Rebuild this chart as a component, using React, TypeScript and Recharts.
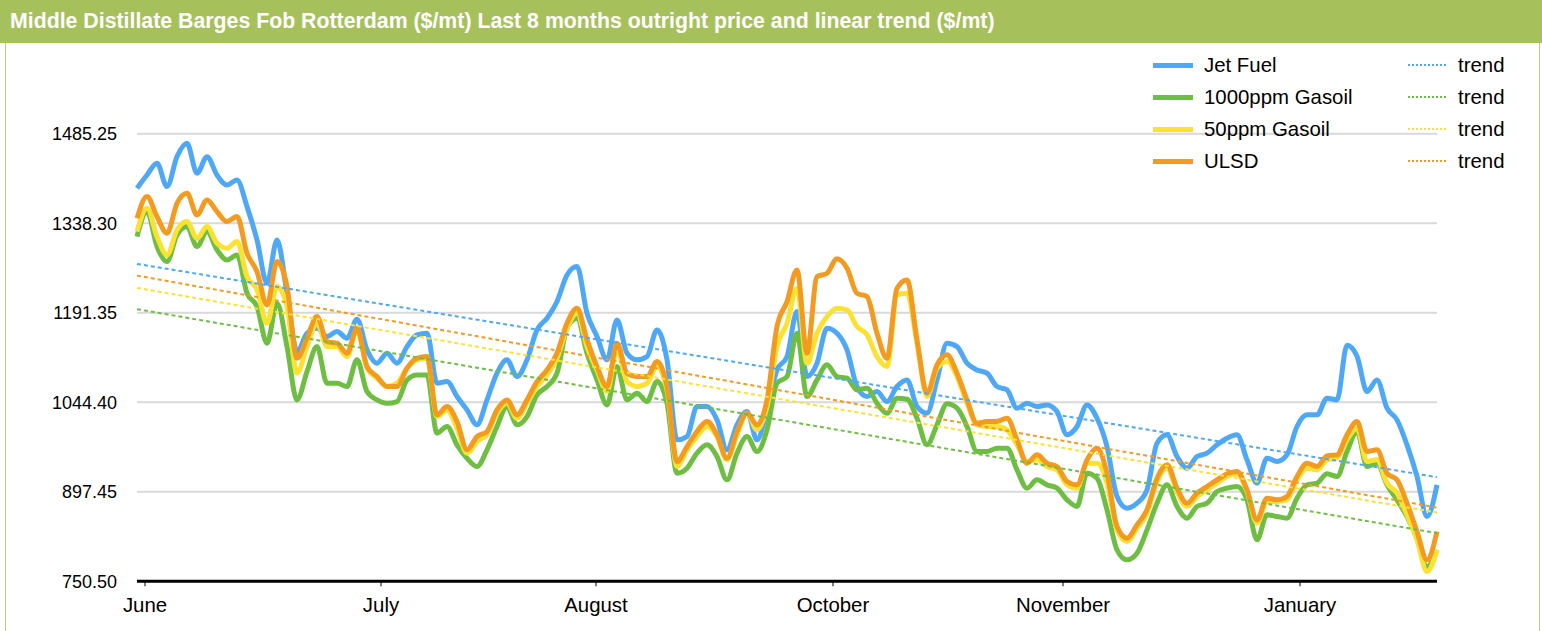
import React from "react";
import { LineChart, Line, XAxis, YAxis, CartesianGrid, Legend } from "recharts";

const FONT = "'Liberation Sans', Arial, sans-serif";

// daily prices ($/mt), June -> end of January
const jetFuel = [
  1395.7, 1417.5, 1436.7, 1398.4, 1447.6, 1469.5, 1420.3, 1447.6, 1417.5, 1401.1,
  1409.3, 1365.6, 1310.9, 1239.8, 1310.9, 1223.4, 1127.6, 1157.7, 1165.9, 1152.2,
  1160.5, 1149.5, 1180.7, 1130.4, 1108.5, 1124.9, 1108.5, 1135.8, 1155.0, 1157.7,
  1075.7, 1078.4, 1053.8, 1031.9, 1007.3, 1048.3, 1092.1, 1114.0, 1086.6, 1114.0,
  1163.2, 1182.3, 1209.7, 1253.4, 1267.1, 1190.5, 1152.2, 1114.0, 1179.6, 1124.9,
  1114.0, 1119.4, 1163.2, 1114.0, 982.7, 988.1, 1037.4, 1037.4, 1015.5, 966.3,
  1007.3, 1029.2, 982.7, 1031.9, 1097.5, 1119.4, 1193.3, 1086.6, 1108.5, 1165.9,
  1157.7, 1130.4, 1070.2, 1053.8, 1062.0, 1045.6, 1070.2, 1081.1, 1037.4, 1026.4,
  1081.1, 1141.3, 1135.8, 1108.5, 1097.5, 1092.1, 1070.2, 1064.7, 1034.6, 1042.8,
  1037.4, 1040.1, 1029.2, 990.9, 1004.6, 1040.1, 1018.2, 971.7, 889.7, 870.5,
  878.7, 900.6, 977.2, 990.9, 955.3, 936.2, 955.3, 960.8, 974.5, 985.4,
  990.9, 949.9, 911.6, 952.6, 947.1, 958.1, 1004.6, 1023.7, 1023.7, 1051.1,
  1048.3, 1138.0, 1120.0, 1062.0, 1081.1, 1034.6, 1015.5, 974.5, 922.5, 856.9,
  908.8,
];

const gasoil1000 = [
  1316.3, 1357.4, 1299.9, 1275.3, 1319.1, 1332.8, 1299.9, 1324.6, 1294.5, 1278.1,
  1286.3, 1223.4, 1201.5, 1141.3, 1206.9, 1135.8, 1048.3, 1094.8, 1135.8, 1075.7,
  1075.7, 1070.2, 1114.0, 1062.0, 1048.3, 1042.8, 1045.6, 1081.1, 1089.3, 1089.3,
  993.6, 1004.6, 974.5, 952.6, 938.9, 966.3, 1004.6, 1037.4, 1007.3, 1021.0,
  1056.5, 1070.2, 1092.1, 1165.9, 1182.3, 1124.9, 1081.1, 1040.1, 1103.0, 1048.3,
  1059.3, 1045.6, 1078.4, 1042.8, 928.0, 936.2, 960.8, 974.5, 955.3, 917.0,
  960.8, 988.1, 963.5, 999.1, 1075.7, 1086.6, 1157.7, 1053.8, 1081.1, 1105.8,
  1086.6, 1083.9, 1064.7, 1067.5, 1042.8, 1026.4, 1051.1, 1049.4, 1018.2, 974.5,
  1007.3, 1041.8, 1034.6, 1004.6, 963.5, 963.5, 969.0, 969.0, 933.4, 903.4,
  917.0, 908.8, 903.4, 884.2, 873.3, 928.0, 919.8, 867.8, 802.2, 785.8,
  796.7, 835.0, 878.7, 908.8, 873.3, 854.1, 873.3, 878.7, 897.9, 903.4,
  906.1, 884.2, 818.6, 859.6, 856.9, 854.1, 887.0, 908.8, 911.6, 926.9,
  922.5, 963.5, 996.4, 938.9, 944.4, 908.8, 884.2, 856.9, 821.3, 774.8,
  802.2,
];

const gasoil50 = [
  1324.6, 1362.8, 1316.3, 1286.3, 1327.3, 1341.0, 1313.6, 1332.8, 1305.4, 1297.2,
  1308.1, 1250.7, 1228.8, 1174.1, 1234.3, 1201.5, 1092.1, 1135.8, 1174.1, 1135.8,
  1135.8, 1119.4, 1163.2, 1100.3, 1083.9, 1070.2, 1075.7, 1100.3, 1114.0, 1116.7,
  1021.0, 1031.9, 1001.8, 960.8, 979.9, 990.9, 1026.4, 1042.8, 1018.2, 1042.8,
  1070.2, 1089.3, 1116.7, 1165.9, 1190.5, 1135.8, 1097.5, 1062.0, 1130.4, 1078.4,
  1070.2, 1075.7, 1103.0, 1064.7, 938.9, 966.3, 988.1, 1004.6, 988.1, 949.9,
  990.9, 1026.4, 999.1, 1037.4, 1135.8, 1174.1, 1231.6, 1108.5, 1157.7, 1185.1,
  1198.7, 1196.0, 1168.7, 1155.0, 1119.4, 1103.0, 1220.6, 1223.4, 1141.3, 1053.8,
  1100.3, 1111.2, 1086.6, 1042.8, 1007.3, 1004.6, 1004.6, 999.1, 974.5, 947.1,
  949.9, 938.9, 933.4, 908.8, 903.4, 944.4, 944.4, 911.6, 835.0, 815.8,
  837.7, 862.3, 914.3, 936.2, 897.9, 873.3, 889.7, 900.6, 911.6, 922.5,
  926.9, 897.9, 845.9, 881.5, 881.5, 884.2, 917.0, 936.2, 933.4, 949.9,
  952.6, 982.7, 1001.8, 947.1, 949.9, 911.6, 895.2, 859.6, 818.6, 766.6,
  802.2,
];

const ulsd = [
  1346.4, 1382.0, 1349.2, 1321.8, 1371.0, 1387.5, 1351.9, 1376.5, 1357.4, 1341.0,
  1349.2, 1289.0, 1258.9, 1204.2, 1275.3, 1234.3, 1116.7, 1149.5, 1185.1, 1144.0,
  1141.3, 1124.9, 1165.9, 1103.0, 1086.6, 1070.2, 1070.2, 1100.3, 1116.7, 1119.4,
  1023.7, 1037.4, 1012.8, 966.3, 988.1, 996.4, 1031.9, 1048.3, 1023.7, 1048.3,
  1078.4, 1097.5, 1124.9, 1174.1, 1198.7, 1146.8, 1103.0, 1070.2, 1141.3, 1092.1,
  1086.6, 1086.6, 1111.2, 1070.2, 947.1, 971.7, 996.4, 1012.8, 990.9, 952.6,
  996.4, 1026.4, 1007.3, 1048.3, 1168.7, 1209.7, 1261.6, 1124.9, 1250.7, 1256.2,
  1280.0, 1264.4, 1223.4, 1217.9, 1157.7, 1116.7, 1231.6, 1245.2, 1146.8, 1059.3,
  1105.8, 1122.2, 1092.1, 1048.3, 1010.0, 1012.8, 1012.8, 1018.2, 982.7, 944.4,
  958.1, 944.4, 938.9, 914.3, 908.8, 949.9, 969.0, 928.0, 840.5, 821.3,
  843.2, 867.8, 919.8, 941.7, 903.4, 878.7, 895.2, 906.1, 917.0, 926.9,
  930.7, 900.6, 851.4, 887.0, 884.2, 889.7, 922.5, 944.4, 938.9, 956.4,
  958.1, 990.9, 1012.8, 963.5, 966.3, 928.0, 917.0, 878.7, 832.3, 785.8,
  832.3,
];

// linear trend: value at first and last day
const jetTrend = [1271.5, 921.5];
const gasoil1000Trend = [1197.2, 829.6];
const gasoil50Trend = [1232.1, 863.4];
const ulsdTrend = [1252.3, 871.6];

// month labels sit at these day positions
const monthTicks = [0.8, 24.4, 45.9, 69.6, 92.6, 116.3];
const monthLabels = ["June", "July", "August", "October", "November", "January"];
const yTicks = [750.5, 897.45, 1044.4, 1191.35, 1338.3, 1485.25];

const series = [
  { key: "jet", name: "Jet Fuel", color: "#4fa8f6", values: jetFuel, trend: jetTrend },
  { key: "g1000", name: "1000ppm Gasoil", color: "#6fbe44", values: gasoil1000, trend: gasoil1000Trend },
  { key: "g50", name: "50ppm Gasoil", color: "#fbe232", values: gasoil50, trend: gasoil50Trend },
  { key: "ulsd", name: "ULSD", color: "#f29b20", values: ulsd, trend: ulsdTrend },
];

const last = jetFuel.length - 1;
const data = jetFuel.map((_, i) => {
  const row: Record<string, number | null> = { i };
  series.forEach((s) => {
    row[s.key] = s.values[i];
    row[s.key + "Trend"] = i === 0 ? s.trend[0] : i === last ? s.trend[1] : null;
  });
  return row;
});

const renderLegend = () => (
  <div style={{ position: "relative", width: 390, height: 128, fontFamily: FONT, fontSize: 20.4, color: "#000" }}>
    {series.map((s, k) => (
      <React.Fragment key={s.key}>
        <div style={{ position: "absolute", left: 13, top: k * 32 + 14, width: 40, height: 5, background: s.color }} />
        <div style={{ position: "absolute", left: 64, top: k * 32, lineHeight: "32px", whiteSpace: "nowrap" }}>{s.name}</div>
        <div style={{ position: "absolute", left: 268, top: k * 32 + 15, width: 38, borderTop: `2px dotted ${s.color}` }} />
        <div style={{ position: "absolute", left: 318, top: k * 32, lineHeight: "32px" }}>trend</div>
      </React.Fragment>
    ))}
  </div>
);

export default function App() {
  return (
    <div style={{ position: "absolute", left: 0, top: 0, width: 1542, height: 631, background: "#fff", overflow: "hidden" }}>
      <LineChart
        width={1542}
        height={631}
        data={data}
        margin={{ top: 133.7, right: 105, bottom: 9.7, left: 17 }}
      >
        <CartesianGrid vertical={false} stroke="#d9d9d9" strokeWidth={2} />
        <XAxis
          dataKey="i"
          type="number"
          domain={[0, last]}
          ticks={monthTicks}
          interval={0}
          tickFormatter={(v) => monthLabels[monthTicks.indexOf(v)]}
          axisLine={{ stroke: "#000", strokeWidth: 3 }}
          tickLine={{ stroke: "#000" }}
          tickSize={5}
          tickMargin={11}
          height={40}
          tick={{ fill: "#000", fontSize: 20.4, fontFamily: FONT }}
        />
        <YAxis
          domain={[750.5, 1485.25]}
          ticks={yTicks}
          interval={0}
          tickFormatter={(v) => v.toFixed(2)}
          axisLine={false}
          tickLine={false}
          width={120}
          tickMargin={14}
          tick={{ fill: "#000", fontSize: 18, fontFamily: FONT }}
        />
        {series.map((s) => (
          <Line
            key={s.key}
            dataKey={s.key}
            name={s.name}
            type="monotone"
            stroke={s.color}
            strokeWidth={5}
            dot={false}
            isAnimationActive={false}
          />
        ))}
        {series.map((s) => (
          <Line
            key={s.key + "Trend"}
            dataKey={s.key + "Trend"}
            name="trend"
            type="linear"
            stroke={s.color}
            strokeWidth={2}
            strokeDasharray="4 3"
            dot={false}
            connectNulls
            isAnimationActive={false}
          />
        ))}
        <Legend
          content={renderLegend}
          layout="horizontal"
          verticalAlign="middle"
          align="center"
          wrapperStyle={{ left: 1140, top: 49, width: 390 }}
        />
      </LineChart>
      <div
        style={{
          position: "absolute", left: 0, top: 0, width: 1542, height: 43,
          background: "#a6c15b", color: "#fff", fontFamily: FONT, fontWeight: "bold",
          fontSize: 21.3, lineHeight: "43px", paddingLeft: 10, boxSizing: "border-box", whiteSpace: "nowrap",
        }}
      >
        Middle Distillate Barges Fob Rotterdam ($/mt) Last 8 months outright price and linear trend ($/mt)
      </div>
      <div style={{ position: "absolute", left: 5, top: 43, width: 1, height: 600, background: "#b9d08a" }} />
      <div style={{ position: "absolute", left: 1539, top: 43, width: 1, height: 600, background: "#b9d08a" }} />
    </div>
  );
}
